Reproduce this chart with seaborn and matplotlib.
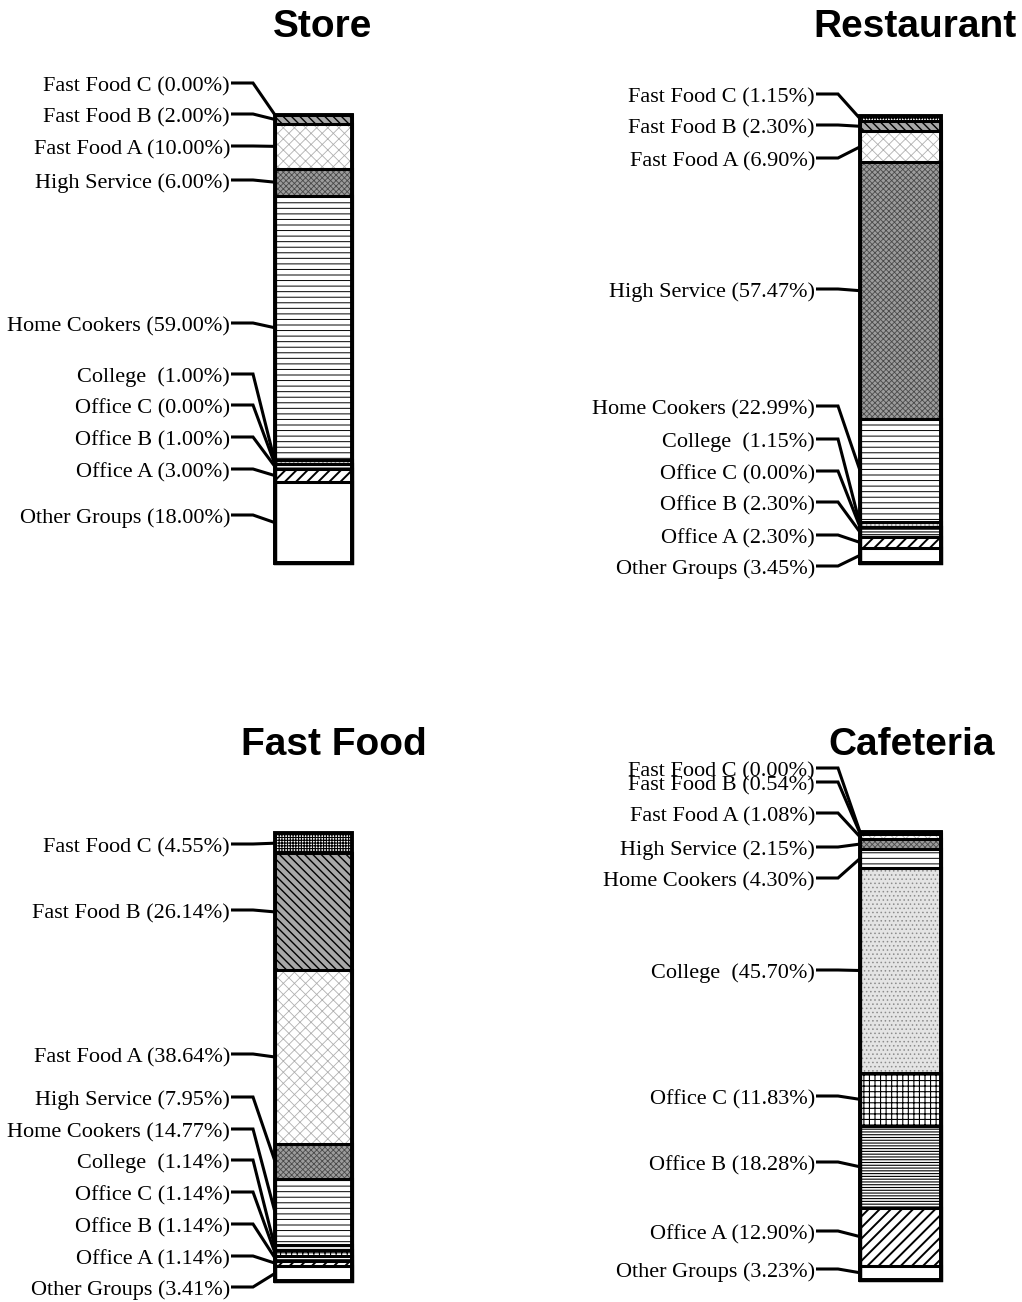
import numpy as np
import matplotlib
matplotlib.use("Agg")
import matplotlib.pyplot as plt
import seaborn as sns

# ---- data -------------------------------------------------------------
channels = ["Store", "Restaurant", "Fast Food", "Cafeteria"]

# consumer groups, listed from the top of each stacked bar to the bottom
groups = ["Fast Food C", "Fast Food B", "Fast Food A", "High Service",
          "Home Cookers", "College ", "Office C", "Office B", "Office A",
          "Other Groups"]

store_pct = [0.00, 2.00, 10.00, 6.00, 59.00, 1.00, 0.00, 1.00, 3.00, 18.00]
restaurant_pct = [1.15, 2.30, 6.90, 57.47, 22.99, 1.15, 0.00, 2.30, 2.30, 3.45]
fast_food_pct = [4.55, 26.14, 38.64, 7.95, 14.77, 1.14, 1.14, 1.14, 1.14, 3.41]
cafeteria_pct = [0.00, 0.54, 1.08, 2.15, 4.30, 45.70, 11.83, 18.28, 12.90, 3.23]

values = {"Store": store_pct, "Restaurant": restaurant_pct,
          "Fast Food": fast_food_pct, "Cafeteria": cafeteria_pct}

# ---- styling ----------------------------------------------------------
# fill colour, hatch pattern, hatch colour, hatch line width
styles = {
    "Fast Food C": ("white", "++++++", "black", 0.8),
    "Fast Food B": ("#a8a8a8", "\\\\\\\\", "black", 1.0),
    "Fast Food A": ("white", "xxx", "#b0b0b0", 0.6),
    "High Service": ("#9c9c9c", "xxxxxx", "#4a4a4a", 0.6),
    "Home Cookers": ("white", "---", "black", 0.7),
    "College ": ("#e4e4e4", "....", "#8c8c8c", 0.6),
    "Office C": ("white", "+++", "black", 0.8),
    "Office B": ("white", "------", "black", 0.8),
    "Office A": ("white", "///", "black", 1.4),
    "Other Groups": ("white", "", "black", 0.8),
}

# ---- layout (pixels of the 1022 x 1302 canvas) -------------------------
W, H = 1022, 1302
bar_boxes = {  # left, top, right, bottom
    "Store": (275, 115, 352, 563),
    "Restaurant": (860, 116, 941, 563),
    "Fast Food": (275, 833, 352, 1281),
    "Cafeteria": (860, 832, 941, 1280),
}
label_rows = {  # vertical position of each label, top to bottom
    "Store": [83, 114, 146, 180, 323, 374, 405, 437, 469, 515],
    "Restaurant": [94, 125, 158, 289, 406, 439, 471, 502, 535, 566],
    "Fast Food": [844, 910, 1054, 1097, 1129, 1160, 1192, 1224, 1256, 1287],
    "Cafeteria": [768, 782, 813, 847, 878, 970, 1096, 1162, 1231, 1269],
}
title_pos = {"Store": (323, 27), "Restaurant": (915, 27),
             "Fast Food": (334, 745), "Cafeteria": (912, 745)}

sns.set_style("white")
plt.rcParams["text.color"] = "black"
plt.rcParams["hatch.linewidth"] = 0.8
label_font = ["Liberation Serif", "DejaVu Serif"]
title_font = ["Liberation Sans", "DejaVu Sans"]

fig = plt.figure(figsize=(W / 100, H / 100), dpi=100)
fig.patch.set_facecolor("white")

for ch in channels:
    l, t, r, b = bar_boxes[ch]
    ax = fig.add_axes([l / W, 1 - b / H, (r - l) / W, (b - t) / H])
    vals = np.asarray(values[ch], dtype=float)
    total = vals.sum()
    # top edge of every segment; later (lower) bars are drawn over earlier ones
    tops = total - np.concatenate([[0.0], np.cumsum(vals)[:-1]])

    # filled, hatched segments
    for i, g in enumerate(groups):
        sns.barplot(x=[ch], y=[tops[i]], width=1.0, errorbar=None,
                    saturation=1, ax=ax)
        p = ax.patches[-1]
        face, hatch, hcol, hlw = styles[g]
        p.set_facecolor(face)
        p.set_edgecolor(hcol)
        p.set_linewidth(0)
        if hasattr(p, "set_hatchcolor"):
            p.set_hatchcolor(hcol)
        if hasattr(p, "set_hatch_linewidth"):
            p.set_hatch_linewidth(hlw)
        p.set_hatch(hatch if hatch else None)

    # black outlines: their top edges separate the segments
    for i, g in enumerate(groups):
        sns.barplot(x=[ch], y=[tops[i]], width=1.0, errorbar=None,
                    fill=False, color="black", linewidth=2.2, ax=ax)
        p = ax.patches[-1]
        p.set_facecolor("none")
        p.set_edgecolor("black")
        p.set_linewidth(2.2 if i else 2.8)
        p.set_hatch(None)

    for p in ax.patches:
        p.set_clip_on(False)
    ax.set_xlim(-0.5, 0.5)
    ax.set_ylim(0, total)
    ax.axis("off")

    # labels with elbow leader lines to the middle of each segment
    axw = r - l
    px = 1.0 / axw
    py = total / (b - t)
    for i, g in enumerate(groups):
        centre = tops[i] - vals[i] / 2
        ly = (b - label_rows[ch][i]) * py
        x0 = -0.5 - 44 * px
        x1 = -0.5 - 22 * px
        ax.plot([x0, x1, -0.5], [ly, ly, centre], color="black", lw=2.2,
                clip_on=False, solid_capstyle="butt", solid_joinstyle="miter")
        ax.text(x0 - 1 * px, ly - 3.5 * py, f"{g} ({vals[i]:.2f}%)", ha="right",
                va="center", fontsize=16, family=label_font, color="black",
                clip_on=False)

    tx, ty = title_pos[ch]
    fig.text(tx / W, 1 - ty / H, ch, ha="center", va="center", fontsize=28,
             fontweight="bold", family=title_font, color="black")

fig.savefig("out.png", dpi=100, facecolor="white")
